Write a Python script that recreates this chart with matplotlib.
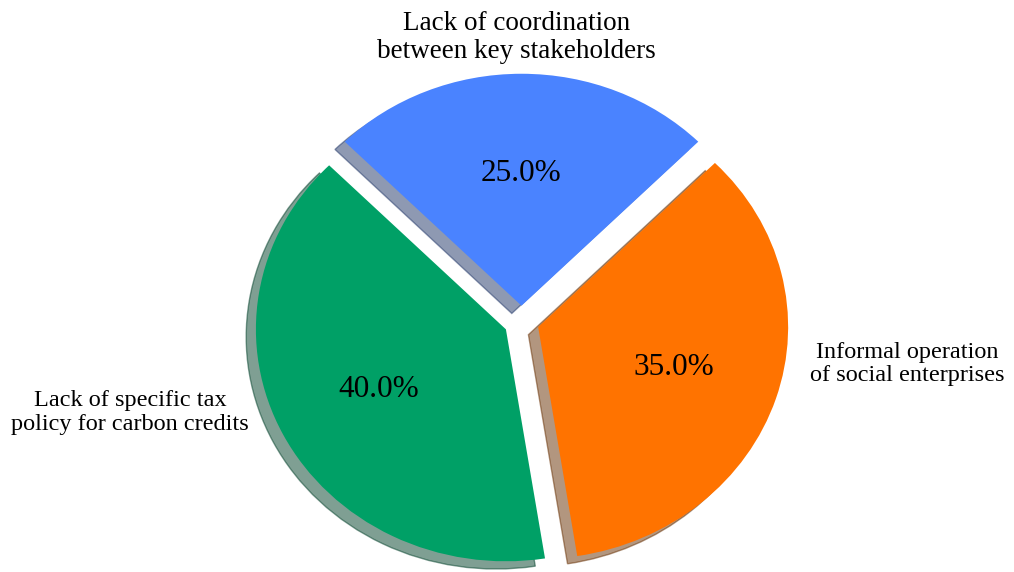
import matplotlib.pyplot as plt

# barriers and their shares (%)
labels = [
    "Lack of coordination\nbetween key stakeholders",
    "Lack of specific tax\npolicy for carbon credits",
    "Informal operation\nof social enterprises",
]
shares = [25, 40, 35]
colors = ["#4a83ff", "#00a066", "#ff7300"]
explode = [0.07, 0.07, 0.07]

# where each category label sits (data units) and how it is anchored
label_pos = [(-0.02, 1.225), (-1.09, -0.39), (1.154, -0.18)]
label_ha = ["center", "right", "left"]
label_size = [19.5, 17.5, 17.5]

plt.rcParams["font.family"] = ["Liberation Serif", "DejaVu Serif"]

fig = plt.figure(figsize=(10.14, 5.72), dpi=100)
ax = fig.add_axes([0, 0, 1, 1])

wedges, texts, autotexts = ax.pie(
    shares,
    labels=labels,
    colors=colors,
    explode=explode,
    startangle=45,
    autopct="%1.1f%%",
    pctdistance=0.57,
    shadow={"ox": -0.028, "oy": -0.024, "shade": 0.6},
    textprops={"fontsize": 17},
)

for t, pos, ha, fs in zip(texts, label_pos, label_ha, label_size):
    t.set_position(pos)
    t.set_horizontalalignment(ha)
    t.set_multialignment("center")
    t.set_verticalalignment("center")
    t.set_linespacing(1.15)
    t.set_fontsize(fs)

for t in autotexts:
    t.set_fontsize(22.5)

# slightly wider than tall
ax.set_aspect("auto")
ax.set_xlim(-2.086, 1.970)
ax.set_ylim(-1.078, 1.388)
ax.axis("off")

fig.savefig("out.png", dpi=100, facecolor="white")
